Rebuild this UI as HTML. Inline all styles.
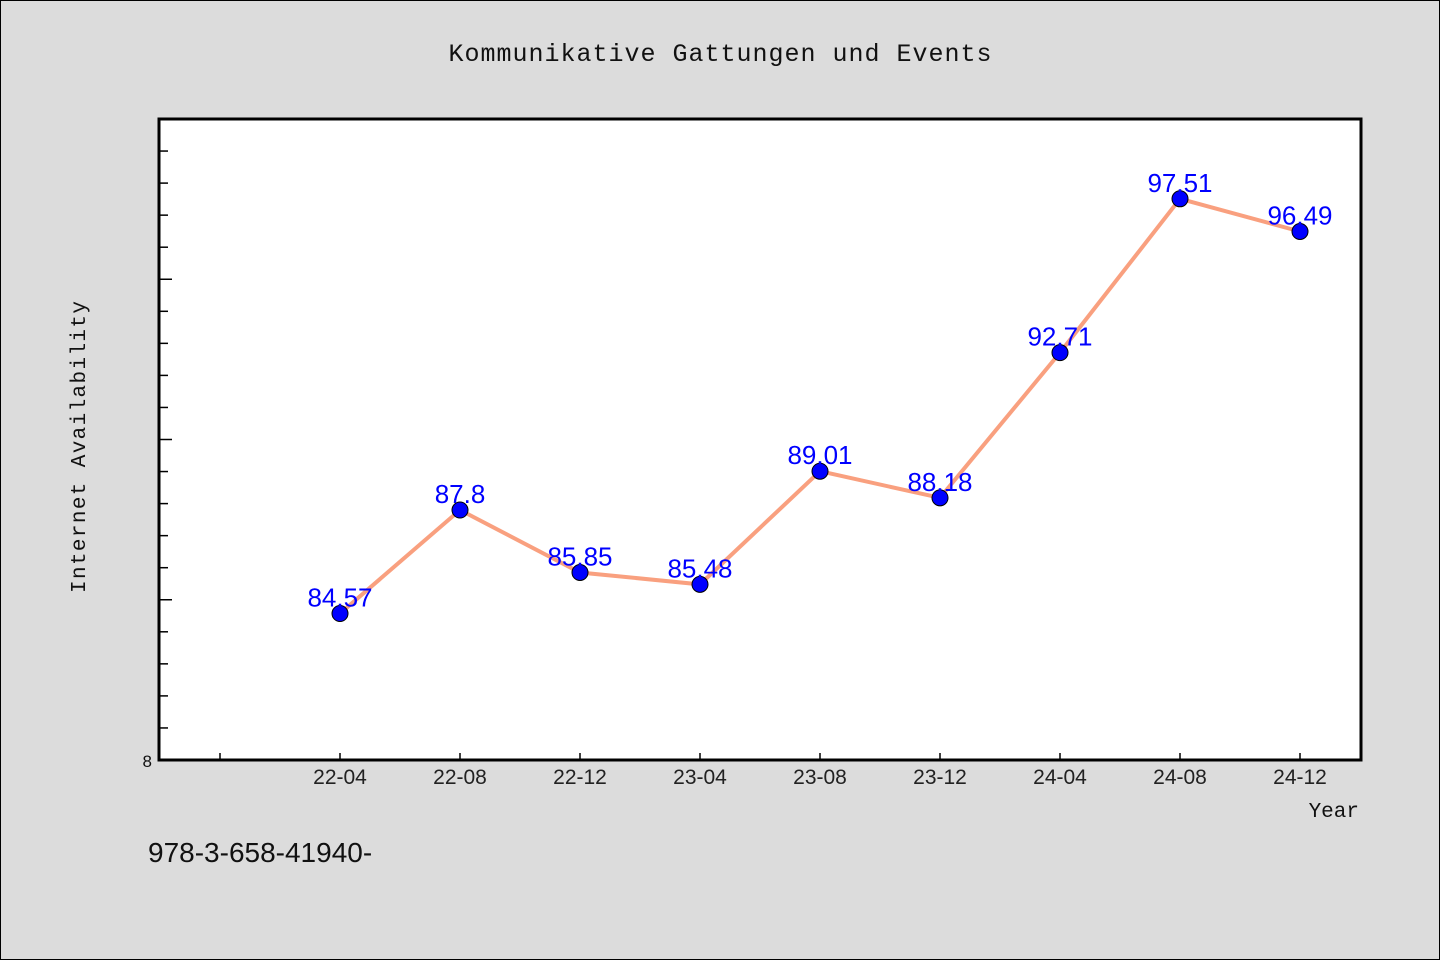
<!DOCTYPE html>
<html><head><meta charset="utf-8"><style>
html,body{margin:0;padding:0;background:#dcdcdc;}
svg{display:block;font-family:"WenQuanYi Zen Hei","Liberation Sans",sans-serif;}
</style></head><body>
<svg id="chart" width="1440" height="960" viewBox="0 0 1440 960">
<rect x="0.5" y="0.5" width="1439" height="959" fill="#dcdcdc" stroke="#000"/>
<text x="720" y="61" text-anchor="middle" font-size="25" textLength="543" fill="#111" font-family="'WenQuanYi Zen Hei Mono','Liberation Mono',monospace">Kommunikative Gattungen und Events</text>
<rect x="159" y="119" width="1202" height="641" fill="#fff" stroke="#000" stroke-width="3"/>
<g id="yticks"></g><g id="xticks"></g>
<text transform="translate(85,447) rotate(-90)" text-anchor="middle" font-size="21" textLength="292" fill="#111" font-family="'WenQuanYi Zen Hei Mono','Liberation Mono',monospace">Internet Availability</text>
<text x="1359" y="817" text-anchor="end" font-size="21" fill="#111" font-family="'WenQuanYi Zen Hei Mono','Liberation Mono',monospace">Year</text>
<text x="148" y="862" font-size="28" fill="#111">978-3-658-41940-</text>
<text x="152" y="767" text-anchor="end" font-size="17" fill="#111">8</text>
<g id="series"></g>
</svg>
<script>
const categories = ["22-04","22-08","22-12","23-04","23-08","23-12","24-04","24-08","24-12"];
const values = [84.57,87.8,85.85,85.48,89.01,88.18,92.71,97.51,96.49];
const labels = ["84.57","87.8","85.85","85.48","89.01","88.18","92.71","97.51","96.49"];
const yMin = 80, yMax = 100;
const NS="http://www.w3.org/2000/svg";
const L=159,R=1361,T=119,B=760;
function y(v){return B-(v-yMin)/(yMax-yMin)*(B-T);}
function x(i){return 340+i*120;}
function mk(t,a,p){const e=document.createElementNS(NS,t);for(const k in a)e.setAttribute(k,a[k]);p.appendChild(e);return e;}
const yt=document.getElementById('yticks');
for(let v=yMin+1;v<yMax;v++){
  const l=mk('line',{x1:L,x2:L+((v%5===0)?13:9),y1:y(v),y2:y(v),stroke:'#000','stroke-width':1.5},yt);
  
  
}
const xt=document.getElementById('xticks');
for(let i=-1;i<categories.length;i++){
  const l=mk('line',{x1:x(i),x2:x(i),y1:B,y2:B-7,stroke:'#000','stroke-width':1.5},xt);
  
  
  if(i>=0){
    const t=mk('text',{x:x(i),y:B+24,'text-anchor':'middle','font-size':21,fill:'#222'},xt);
    t.textContent=categories[i];
    
    
  }
}
const s=document.getElementById('series');
const pl=mk('polyline',{points:values.map((v,i)=>x(i)+','+y(v)).join(' '),fill:'none',stroke:'#f9a07f','stroke-width':4},s);


values.forEach((v,i)=>{
  const c=mk('circle',{cx:x(i),cy:y(v),r:8,fill:'#0000ff',stroke:'#000','stroke-width':1},s);
  
  
});
values.forEach((v,i)=>{
  const t=mk('text',{x:x(i),y:y(v)-7,'text-anchor':'middle','font-size':26,fill:'#0000ff'},s);
  t.textContent=labels[i];
  
  
});
</script>
</body></html>
